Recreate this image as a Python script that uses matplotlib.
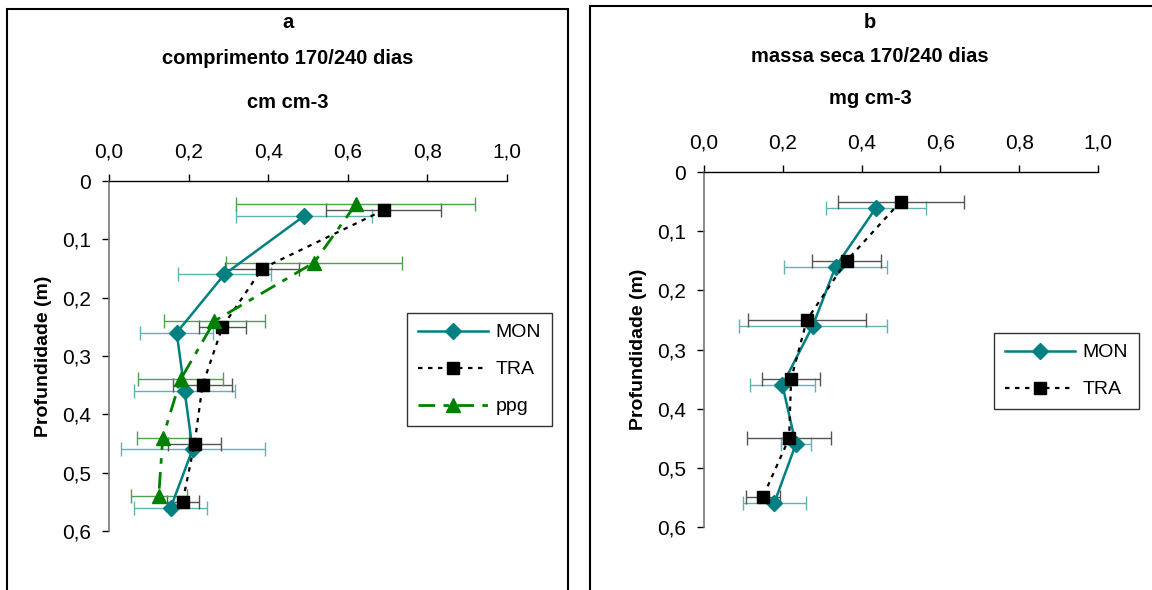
import matplotlib
matplotlib.use('Agg')
import matplotlib.pyplot as plt
from matplotlib.patches import Rectangle
from matplotlib.ticker import FuncFormatter

plt.rcParams['font.family'] = ['Liberation Sans', 'DejaVu Sans']

# profundidades (m)
prof_mon = [0.06, 0.16, 0.26, 0.36, 0.46, 0.56]
prof_tra = [0.05, 0.15, 0.25, 0.35, 0.45, 0.55]
prof_ppg = [0.04, 0.14, 0.24, 0.34, 0.44, 0.54]

# a - comprimento (cm cm-3)
comp_mon = [0.49, 0.29, 0.17, 0.19, 0.21, 0.155]
comp_mon_err = [0.17, 0.116, 0.092, 0.126, 0.181, 0.091]
comp_tra = [0.69, 0.385, 0.285, 0.235, 0.215, 0.185]
comp_tra_err = [0.145, 0.093, 0.06, 0.073, 0.067, 0.04]
comp_ppg = [0.62, 0.515, 0.265, 0.18, 0.135, 0.125]
comp_ppg_err = [0.30, 0.22, 0.128, 0.106, 0.065, 0.07]

# b - massa seca (mg cm-3)
massa_mon = [0.437, 0.334, 0.276, 0.199, 0.233, 0.178]
massa_mon_err = [0.127, 0.13, 0.188, 0.082, 0.038, 0.08]
massa_tra = [0.499, 0.362, 0.261, 0.221, 0.216, 0.149]
massa_tra_err = [0.16, 0.087, 0.15, 0.074, 0.107, 0.043]

x_ticks = [0.0, 0.2, 0.4, 0.6, 0.8, 1.0]
y_ticks = [0, 0.1, 0.2, 0.3, 0.4, 0.5, 0.6]

W, H = 1152, 590
fig = plt.figure(figsize=(W / 100, H / 100), dpi=100)


def px_axes(x0, y0, x1, y1):
    return fig.add_axes([x0 / W, 1 - y1 / H, (x1 - x0) / W, (y1 - y0) / H])


def estilo(ax):
    ax.set_xlim(0, 1)
    ax.set_ylim(0.6, 0)
    ax.xaxis.tick_top()
    ax.set_xticks(x_ticks)
    ax.set_yticks(y_ticks)
    ax.xaxis.set_major_formatter(FuncFormatter(lambda v, p: f'{v:.1f}'.replace('.', ',')))
    ax.yaxis.set_major_formatter(FuncFormatter(lambda v, p: '0' if v == 0 else f'{v:.1f}'.replace('.', ',')))
    ax.tick_params(axis='both', labelsize=15, direction='out', length=5, width=1)
    ax.tick_params(axis='y', pad=8)
    ax.tick_params(axis='x', pad=9)
    ax.spines['right'].set_visible(False)
    ax.spines['bottom'].set_visible(False)
    ax.spines['left'].set_color('#777777')
    ax.spines['left'].set_linewidth(1.2)
    ax.spines['top'].set_linewidth(1)
    ax.set_ylabel('Profundidade (m)', fontsize=14, fontweight='bold', labelpad=7)


def serie(ax, x, y, err, cor, ecor, marker, ms, ls, lw, label):
    ax.errorbar(x, y, xerr=err, fmt='none', ecolor=ecor, elinewidth=1, capsize=5, capthick=1, zorder=2)
    ax.plot(x, y, color=cor, ls=ls, lw=lw, marker=marker, ms=ms, mfc=cor, mec=cor, label=label, zorder=3)


def legenda(ax, x0, y0):
    ax.legend(loc='upper left', bbox_to_anchor=(x0 / W, 1 - y0 / H), bbox_transform=fig.transFigure,
              fontsize=14, frameon=True, fancybox=False, edgecolor='black', handlelength=3.6,
              labelspacing=1.0, borderpad=0.55, handletextpad=0.4, borderaxespad=0)


# painel a
fig.add_artist(Rectangle((7 / W, -0.1), (568 - 7) / W, 1.1 - 9 / H, transform=fig.transFigure,
                         fill=False, lw=1.5, ec='black'))
ax1 = px_axes(109, 181, 507, 531)
estilo(ax1)
serie(ax1, comp_mon, prof_mon, comp_mon_err, '#008080', '#5fb3b3', 'D', 8, '-', 1.8, 'MON')
serie(ax1, comp_tra, prof_tra, comp_tra_err, 'black', '#555555', 's', 8.5, (0, (2, 2.5)), 1.6, 'TRA')
serie(ax1, comp_ppg, prof_ppg, comp_ppg_err, '#008000', '#4fa04f', '^', 9.5, (0, (6, 3, 2, 3)), 2, 'ppg')
legenda(ax1, 407, 313)
fig.text(288 / W, 1 - 23 / H, 'a', ha='center', va='center', fontsize=14.5, fontweight='bold')
fig.text(288 / W, 1 - 58 / H, 'comprimento 170/240 dias', ha='center', va='center', fontsize=14.5, fontweight='bold')
fig.text(288 / W, 1 - 103 / H, 'cm cm-3', ha='center', va='center', fontsize=14.5, fontweight='bold')

# painel b
fig.add_artist(Rectangle((590 / W, -0.1), 0.6, 1.1 - 6 / H, transform=fig.transFigure,
                         fill=False, lw=1.5, ec='black'))
ax2 = px_axes(704, 172, 1098, 527)
estilo(ax2)
serie(ax2, massa_mon, prof_mon, massa_mon_err, '#008080', '#5fb3b3', 'D', 8, '-', 1.8, 'MON')
serie(ax2, massa_tra, prof_tra, massa_tra_err, 'black', '#555555', 's', 8.5, (0, (2, 2.5)), 1.6, 'TRA')
legenda(ax2, 994, 333)
fig.text(870 / W, 1 - 22 / H, 'b', ha='center', va='center', fontsize=14.5, fontweight='bold')
fig.text(870 / W, 1 - 57 / H, 'massa seca 170/240 dias', ha='center', va='center', fontsize=14.5, fontweight='bold')
fig.text(870 / W, 1 - 98 / H, 'mg cm-3', ha='center', va='center', fontsize=14.5, fontweight='bold')

fig.savefig('out.png', dpi=100, facecolor='white')
